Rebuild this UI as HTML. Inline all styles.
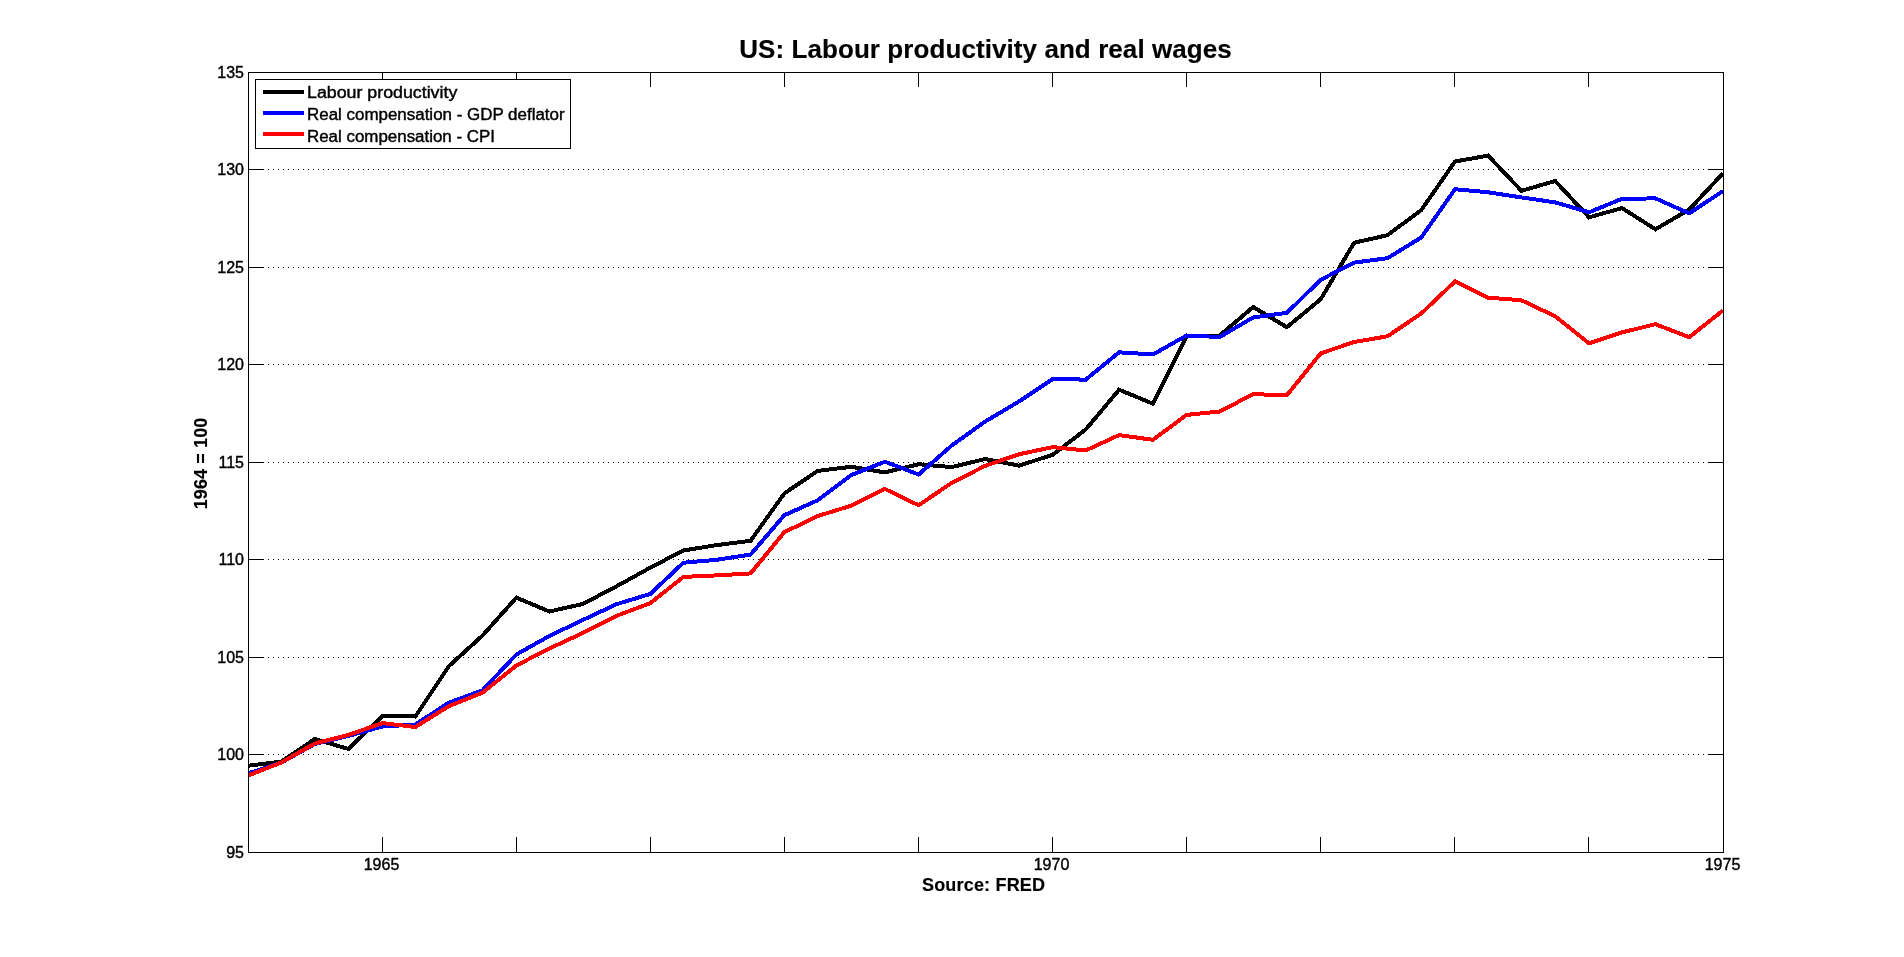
<!DOCTYPE html><html><head><meta charset="utf-8"><title>US: Labour productivity and real wages</title><style>
html,body{margin:0;padding:0;background:#fff;overflow:hidden}svg{display:block;will-change:transform}
text{font-family:"Liberation Sans",Arial,sans-serif;fill:#000;stroke:#000;stroke-width:0.4px}
.b{font-weight:bold;stroke-width:0.15px}
</style></head><body>
<svg width="1904" height="957" viewBox="0 0 1904 957">
<rect x="0" y="0" width="1904" height="957" fill="#fff"/>
<path d="M248 169.5H1723M248 267.5H1723M248 364.5H1723M248 462.5H1723M248 559.5H1723M248 657.5H1723M248 754.5H1723" stroke="#000" stroke-width="1" stroke-dasharray="1 4" shape-rendering="crispEdges" fill="none"/>
<path d="M248 169.5h15M1724 169.5h-15M248 267.5h15M1724 267.5h-15M248 364.5h15M1724 364.5h-15M248 462.5h15M1724 462.5h-15M248 559.5h15M1724 559.5h-15M248 657.5h15M1724 657.5h-15M248 754.5h15M1724 754.5h-15M382.5 72v15M382.5 853v-16M516.5 72v15M516.5 853v-16M650.5 72v15M650.5 853v-16M784.5 72v15M784.5 853v-16M918.5 72v15M918.5 853v-16M1052.5 72v15M1052.5 853v-16M1186.5 72v15M1186.5 853v-16M1320.5 72v15M1320.5 853v-16M1454.5 72v15M1454.5 853v-16M1588.5 72v15M1588.5 853v-16" stroke="#000" stroke-width="1" shape-rendering="crispEdges" fill="none"/>
<defs><clipPath id="pc"><rect x="248" y="72" width="1476" height="781"/></clipPath></defs>
<g clip-path="url(#pc)">
<polyline points="248.00,765.8 281.41,761.6 314.81,739.0 348.58,749.0 382.36,716.0 415.40,716.5 448.80,666.2 482.58,635.5 516.35,597.6 549.39,611.5 582.79,604.0 616.57,586.3 650.34,567.6 683.38,550.5 716.78,545.1 750.56,540.8 784.33,493.4 817.74,470.9 851.14,466.8 884.92,472.4 918.69,464.2 951.73,467.1 985.13,459.0 1018.91,465.7 1052.68,454.8 1085.72,429.5 1119.12,389.7 1152.90,403.7 1186.67,336.0 1219.71,335.5 1253.11,307.0 1286.89,327.2 1320.66,299.3 1354.07,242.8 1387.47,235.2 1421.25,210.1 1455.02,161.5 1488.06,155.6 1521.46,190.8 1555.24,181.0 1589.01,217.3 1622.05,208.1 1655.45,229.3 1689.23,209.5 1723.00,173.3" fill="none" stroke="#000" stroke-width="4" stroke-linejoin="miter" stroke-miterlimit="3" stroke-linecap="butt" shape-rendering="crispEdges"/>
<polyline points="248.00,773.4 281.41,762.6 314.81,744.0 348.58,735.9 382.36,726.5 415.40,724.5 448.80,702.7 482.58,690.3 516.35,654.5 549.39,636.0 582.79,620.0 616.57,604.2 650.34,593.9 683.38,562.7 716.78,559.8 750.56,554.6 784.33,515.2 817.74,500.3 851.14,475.2 884.92,461.7 918.69,474.5 951.73,445.5 985.13,421.6 1018.91,401.5 1052.68,379.1 1085.72,379.6 1119.12,352.3 1152.90,354.5 1186.67,335.5 1219.71,337.0 1253.11,317.5 1286.89,312.8 1320.66,279.8 1354.07,262.6 1387.47,258.2 1421.25,237.5 1455.02,189.2 1488.06,192.3 1521.46,197.4 1555.24,202.4 1589.01,212.3 1622.05,198.8 1655.45,198.4 1689.23,213.3 1723.00,191.0" fill="none" stroke="#00f" stroke-width="4" stroke-linejoin="miter" stroke-miterlimit="3" stroke-linecap="butt" shape-rendering="crispEdges"/>
<polyline points="248.00,775.5 281.41,762.5 314.81,743.5 348.58,734.9 382.36,723.1 415.40,727.0 448.80,706.2 482.58,692.7 516.35,665.5 549.39,648.5 582.79,633.0 616.57,615.8 650.34,603.1 683.38,576.9 716.78,575.4 750.56,573.4 784.33,532.2 817.74,516.0 851.14,505.7 884.92,489.0 918.69,505.3 951.73,482.8 985.13,465.9 1018.91,454.3 1052.68,447.1 1085.72,450.5 1119.12,435.1 1152.90,439.8 1186.67,414.9 1219.71,411.5 1253.11,394.2 1286.89,395.2 1320.66,353.4 1354.07,342.0 1387.47,336.3 1421.25,313.5 1455.02,281.4 1488.06,297.6 1521.46,300.3 1555.24,316.3 1589.01,343.3 1622.05,332.4 1655.45,324.2 1689.23,337.2 1723.00,310.4" fill="none" stroke="#f00" stroke-width="4" stroke-linejoin="miter" stroke-miterlimit="3" stroke-linecap="butt" shape-rendering="crispEdges"/>
</g>
<rect x="248.5" y="72.5" width="1475" height="780" fill="none" stroke="#000" stroke-width="1" shape-rendering="crispEdges"/>
<text x="244" y="858" font-size="16" text-anchor="end">95</text>
<text x="244" y="760" font-size="16" text-anchor="end">100</text>
<text x="244" y="663" font-size="16" text-anchor="end">105</text>
<text x="244" y="565" font-size="16" text-anchor="end">110</text>
<text x="244" y="468" font-size="16" text-anchor="end">115</text>
<text x="244" y="370" font-size="16" text-anchor="end">120</text>
<text x="244" y="273" font-size="16" text-anchor="end">125</text>
<text x="244" y="175" font-size="16" text-anchor="end">130</text>
<text x="244" y="78" font-size="16" text-anchor="end">135</text>
<text x="381.5" y="870" font-size="16" text-anchor="middle">1965</text>
<text x="1051.5" y="870" font-size="16" text-anchor="middle">1970</text>
<text x="1722.5" y="870" font-size="16" text-anchor="middle">1975</text>
<text class="b" x="985.5" y="58" font-size="26" text-anchor="middle" textLength="492.6" lengthAdjust="spacing">US: Labour productivity and real wages</text>
<text class="b" x="983.5" y="891" font-size="18" text-anchor="middle" textLength="123" lengthAdjust="spacing">Source: FRED</text>
<text class="b" transform="translate(207,463.5) rotate(-90)" x="0" y="0" font-size="18" text-anchor="middle" textLength="91.6" lengthAdjust="spacing">1964 = 100</text>
<rect x="255.5" y="79.5" width="315" height="69" fill="#fff" stroke="#000" stroke-width="1" shape-rendering="crispEdges"/>
<rect x="263" y="90" width="41" height="4" fill="#000"/>
<text x="307" y="98" font-size="16" textLength="150.3" lengthAdjust="spacingAndGlyphs">Labour productivity</text>
<rect x="263" y="111" width="41" height="4" fill="#00f"/>
<text x="307" y="120" font-size="16" textLength="257.6" lengthAdjust="spacingAndGlyphs">Real compensation - GDP deflator</text>
<rect x="263" y="132" width="41" height="4" fill="#f00"/>
<text x="307" y="142" font-size="16" textLength="188.0" lengthAdjust="spacingAndGlyphs">Real compensation - CPI</text>
</svg></body></html>
